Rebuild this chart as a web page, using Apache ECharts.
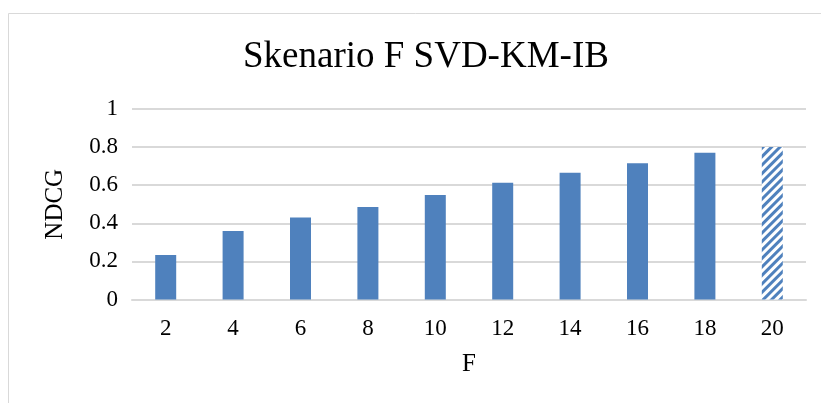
<!DOCTYPE html>
<html>
<head>
<meta charset="utf-8">
<script src="https://cdn.jsdelivr.net/npm/echarts@6/dist/echarts.min.js"></script>
<style>
  html, body { margin: 0; padding: 0; background: #fff; }
  #chart { width: 821px; height: 403px; }
</style>
</head>
<body>
<div id="chart"></div>
<script>
  // data
  var categories = ['2', '4', '6', '8', '10', '12', '14', '16', '18', '20'];
  var ndcg = [0.233, 0.359, 0.431, 0.485, 0.548, 0.613, 0.665, 0.715, 0.770, 0.80];
  var yTicks = [0, 0.2, 0.4, 0.6, 0.8, 1];
  var hatchedIndex = 9;

  var barColor = '#4F81BD';
  var font = '"Liberation Serif", "Times New Roman", serif';

  var seriesData = ndcg.map(function (v, i) {
    if (i !== hatchedIndex) return v;
    return {
      value: v,
      itemStyle: {
        color: '#FFFFFF',
        decal: {
          symbol: 'rect',
          symbolSize: 1,
          dashArrayX: [1, 0],
          dashArrayY: [3, 3],
          rotation: -Math.PI / 4,
          color: barColor
        }
      }
    };
  });

  var myChart = echarts.init(document.getElementById('chart'), null, { renderer: 'canvas' });
  var options = {
    animation: false,
    backgroundColor: '#FFFFFF',
    title: {
      text: 'Skenario F SVD-KM-IB',
      left: 238,
      top: 34,
      textStyle: { fontFamily: font, fontSize: 37, fontWeight: 'normal', color: '#000' }
    },
    graphic: [{
      type: 'rect',
      shape: { x: 8.5, y: 13.5, width: 900, height: 500 },
      style: { fill: 'none', stroke: '#D9D9D9', lineWidth: 1 },
      silent: true
    }],
    grid: { left: 132, right: 15, top: 109, bottom: 103.5 },
    xAxis: {
      type: 'category',
      data: categories,
      name: 'F',
      nameLocation: 'middle',
      nameGap: 52,
      nameTextStyle: { fontFamily: font, fontSize: 25, color: '#000' },
      axisLine: { lineStyle: { color: '#D9D9D9', width: 2 } },
      axisTick: { show: false },
      axisLabel: { fontFamily: font, fontSize: 23, color: '#000', margin: 18 }
    },
    yAxis: {
      type: 'value',
      min: yTicks[0],
      max: yTicks[yTicks.length - 1],
      interval: 0.2,
      name: 'NDCG',
      nameLocation: 'middle',
      nameGap: 64,
      nameTextStyle: { fontFamily: font, fontSize: 25, color: '#000' },
      axisLine: { show: false },
      axisTick: { show: false },
      splitLine: { lineStyle: { color: '#D9D9D9', width: 2 } },
      axisLabel: { fontFamily: font, fontSize: 23, color: '#000', margin: 14 }
    },
    series: [{
      type: 'bar',
      data: seriesData,
      barWidth: 21,
      itemStyle: { color: barColor }
    }]
  };
  myChart.setOption(options);
</script>
</body>
</html>
